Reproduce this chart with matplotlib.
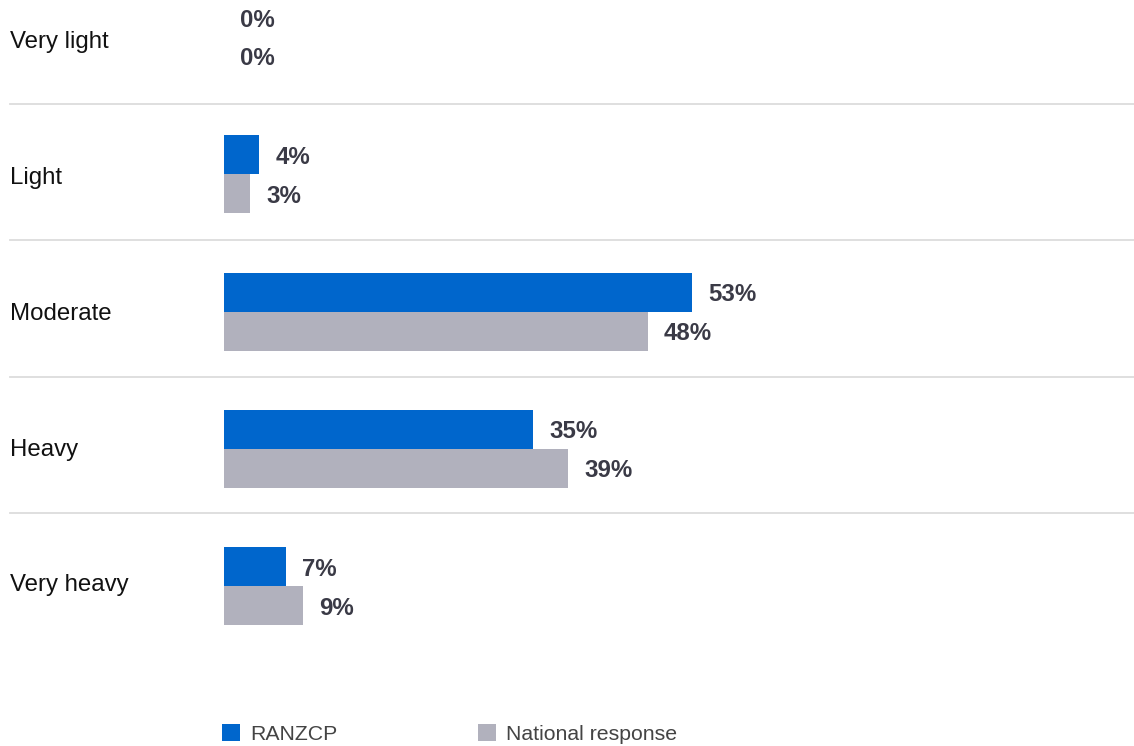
import matplotlib
matplotlib.use('Agg')
from matplotlib import pyplot as plt
from matplotlib import transforms
import numpy as np

# data
categories = ['Very light', 'Light', 'Moderate', 'Heavy', 'Very heavy']
ranzcp = [0, 4, 53, 35, 7]
national = [0, 3, 48, 39, 9]
series_names = ['RANZCP', 'National response']

blue = '#0066cc'
grey = '#b1b1bd'
label_color = '#3a3a46'

plt.rcParams['font.family'] = ['Liberation Sans', 'DejaVu Sans']

fig = plt.figure(figsize=(11.34, 7.46), dpi=100)
ax = fig.add_axes([224 / 1134, 1 - 660 / 746, 1 - 224 / 1134, 660 / 746])

y = np.arange(len(categories))
h = 0.284
b1 = ax.barh(y - h / 2, ranzcp, height=h, color=blue, label=series_names[0])
b2 = ax.barh(y + h / 2, national, height=h, color=grey, label=series_names[1])

for bars in (b1, b2):
    labels = ax.bar_label(bars, fmt='{:.0f}%', padding=11.5, fontsize=17.3,
                          fontweight='bold', color=label_color)
    for t in labels:
        t.set_va('center_baseline')

ax.set_xlim(0, 910 / 8.83)
ax.set_ylim((660 - 37) / 137.3, -37 / 137.3)
ax.axis('off')

# category labels (row spacing of the text is a bit tighter than the bars)
trans = transforms.blended_transform_factory(fig.transFigure, ax.transData)
for i, c in enumerate(categories):
    yl = (3 + 135.75 * i) / 137.3
    ax.text(10 / 1134, yl, c, transform=trans, fontsize=17.3, color='#111111',
            va='center_baseline', ha='left')

# separators
for i in range(len(categories) - 1):
    ys = (104 + 136.3 * i - 37) / 137.3
    ax.plot([10 / 1134, 1.0], [ys, ys], transform=trans,
            color='#dcdcdc', lw=1.3, clip_on=False)

fig.legend(handles=[b1, b2], loc='lower left',
           bbox_to_anchor=(222 / 1134, 2 / 746), ncol=2, frameon=False,
           fontsize=15.3, labelcolor='#444444', handlelength=0.85,
           handleheight=0.85, handletextpad=0.47, columnspacing=6.6,
           borderpad=0, borderaxespad=0)

fig.savefig('out.png', dpi=100)
